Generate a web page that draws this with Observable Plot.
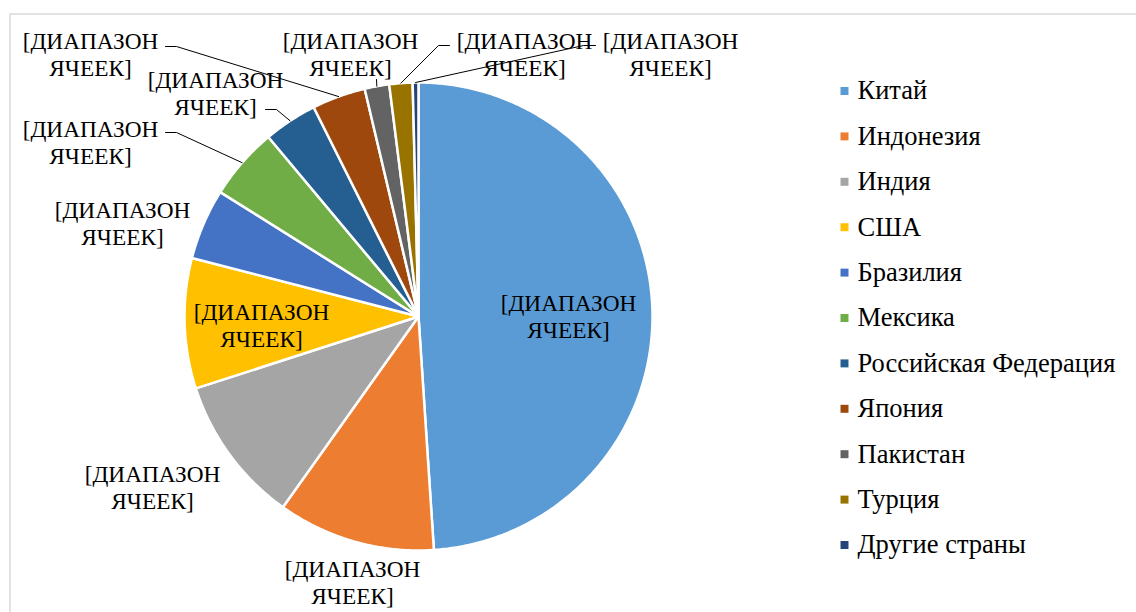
<!DOCTYPE html>
<html>
<head>
<meta charset="utf-8">
<script src="https://cdn.jsdelivr.net/npm/d3@7"></script>
<script src="https://cdn.jsdelivr.net/npm/@observablehq/plot@0.6"></script>
<style>
  html, body { margin: 0; padding: 0; background: #ffffff; }
  #chart { width: 1136px; height: 612px; overflow: hidden; }
  #chart svg, #chart svg text { font-family: "Liberation Serif", "Times New Roman", serif; }
</style>
</head>
<body>
<div id="chart"></div>
<script>
// ---- data ----
const countries = ["Китай", "Индонезия", "Индия", "США", "Бразилия", "Мексика",
  "Российская Федерация", "Япония", "Пакистан", "Турция", "Другие страны"];
const shares = [49.0, 10.9, 10.2, 9.0, 4.9, 5.0, 3.7, 3.7, 1.7, 1.6, 0.4];
const colors = ["#5B9BD5", "#ED7D31", "#A5A5A5", "#FFC000", "#4472C4", "#70AD47",
  "#255E91", "#9E480E", "#636363", "#997300", "#264478"];
const labelText = "[ДИАПАЗОН\nЯЧЕЕК]";

// ---- layout ----
const W = 1136, H = 612;
const CX = 418, CY = 316, R = 234;
const FONT = "Liberation Serif";
const labelPos = [[568, 315], [352, 581], [152, 486], [261, 324], [122, 222], [90, 141],
  [215, 92], [90, 53], [350, 53], [524, 53], [670, 53]];
// leader line: [start, elbow] (null = no leader); end point is on the slice edge
const leaderStart = [null, null, null, null, null,
  [[165, 132], [176, 132]],
  [[265, 109], [276, 109]],
  [[165, 46], [176, 46]],
  [[376, 79]],
  [[449, 45], [438, 45]],
  [[595, 45], [583, 45]]];
const legendX = 844, legendTextX = 857, legendY0 = 90.5, legendDY = 45.4;

const data = countries.map((name, i) => ({name, share: shares[i]}));
const arcs = d3.pie().sort(null).value(d => d.share)(data);
const px = (a, r) => CX + r * Math.sin(a);
const py = (a, r) => CY - r * Math.cos(a);

const slicePts = [];
arcs.forEach(a => {
  const name = a.data.name;
  slicePts.push({name, x: CX, y: CY});
  const n = Math.max(2, Math.ceil((a.endAngle - a.startAngle) / (Math.PI / 360)));
  for (let k = 0; k <= n; k++) {
    const t = a.startAngle + (a.endAngle - a.startAngle) * k / n;
    slicePts.push({name, x: px(t, R), y: py(t, R)});
  }
});

const labels = arcs.map((a, i) => ({name: a.data.name, x: labelPos[i][0], y: labelPos[i][1]}));

const leaderPts = [];
arcs.forEach((a, i) => {
  if (!leaderStart[i]) return;
  const mid = (a.startAngle + a.endAngle) / 2;
  leaderStart[i].forEach(p => leaderPts.push({name: a.data.name, x: p[0], y: p[1]}));
  leaderPts.push({name: a.data.name, x: px(mid, R), y: py(mid, R)});
});

const chart = Plot.plot({
  width: W, height: H,
  margin: 0,
  style: {fontFamily: FONT, background: "#ffffff", color: "#000"},
  x: {domain: [0, W], range: [0, W], axis: null},
  y: {domain: [0, H], range: [0, H], axis: null},
  color: {domain: countries, range: colors},
  marks: [
    Plot.frame({stroke: "#d9d9d9", strokeWidth: 1.5, insetLeft: 9.5, insetTop: 13.5, insetRight: -10, insetBottom: -10}),
    Plot.line(slicePts, {x: "x", y: "y", z: "name", fill: "name", stroke: "white", strokeWidth: 2.5, strokeLinejoin: "round", curve: "linear-closed"}),
    Plot.line(leaderPts, {x: "x", y: "y", z: "name", stroke: "#000", strokeWidth: 1}),
    Plot.text(labels, {x: "x", y: "y", text: () => labelText, fontFamily: FONT, fontSize: 23.3, lineHeight: 1.16, textAnchor: "middle", lineAnchor: "middle", fill: "#000"}),
    Plot.dot(countries, {x: () => legendX, y: (d, i) => legendY0 + i * legendDY, symbol: "square", r: 4.5, fill: d => d}),
    Plot.text(countries, {x: () => legendTextX, y: (d, i) => legendY0 + i * legendDY, text: d => d, fontFamily: FONT, fontSize: 26.5, textAnchor: "start", fill: "#000"})
  ]
});
document.getElementById("chart").appendChild(chart);
</script>
</body>
</html>
